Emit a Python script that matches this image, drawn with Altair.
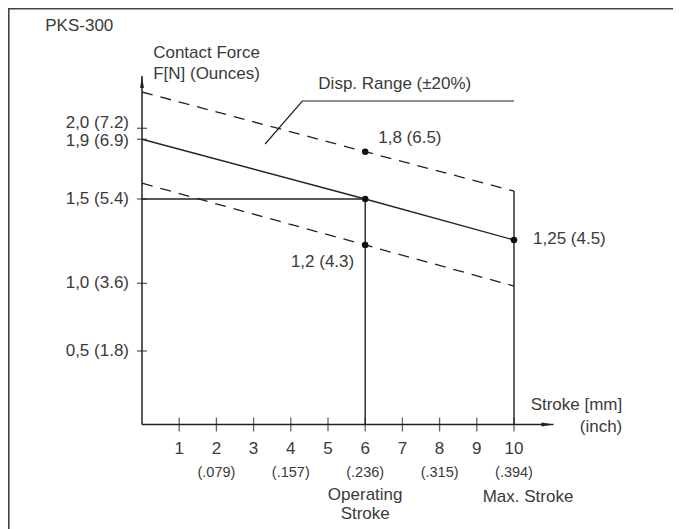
import altair as alt
import pandas as pd

# ---------------- data ----------------
stroke_mm = [0, 6, 10]
force_nominal = [1.9, 1.5, 1.25]
force_upper = [2.33, 1.8, 1.55]
force_lower = [1.6, 1.2, 0.98]

x_ticks = [1, 2, 3, 4, 5, 6, 7, 8, 9, 10]
x_tick_labels = ["1", "2", "3", "4", "5", "6", "7", "8", "9", "10"]
inch_positions = [2, 4, 6, 8, 10]
inch_labels = ["(.079)", "(.157)", "(.236)", "(.315)", "(.394)"]

y_ticks = [0.5, 1.0, 1.5, 1.9, 2.0]
y_low_ticks = [0.5, 1.0, 1.5]
y_low_labels = ["0,5 (1.8)", "1,0 (3.6)", "1,5 (5.4)"]
y_top_labels = ["1,9 (6.9)", "2,0 (7.2)"]

operating_stroke = 6
max_stroke = 10
operating_force = 1.5
max_stroke_top = 1.55

x_axis_end = 11.06
y_axis_end = 2.475

callout_x = [3.31, 4.31, 10]
callout_y = [1.862, 2.248, 2.248]

# schematic (non-uniform) force axis: scale stops
y_stops = [0, 0.5, 1.0, 1.2, 1.25, 1.5, 1.8, 1.9, 2.0]
y_stop_px = [416.5, 343, 275.3, 237, 232, 191, 143.7, 131.3, 120.3]

W, H = 665, 521
INK = "#222222"
TXT = "#3a3a3a"
FONT = "Liberation Sans"
FS = 17

xs = alt.Scale(domain=[0, 10], range=[134, 506], nice=False, zero=False)
ys = alt.Scale(domain=y_stops, range=y_stop_px, nice=False, zero=False)
X = alt.X("x:Q", scale=xs, axis=None)
Y = alt.Y("y:Q", scale=ys, axis=None)


def df(**cols):
    return pd.DataFrame(cols)


# curves
nominal = alt.Chart(df(x=stroke_mm, y=force_nominal)).mark_line(
    color=INK, strokeWidth=1.4).encode(x=X, y=Y)

band = pd.concat([
    df(x=stroke_mm, y=force_upper, s=["upper"] * 3),
    df(x=stroke_mm, y=force_lower, s=["lower"] * 3),
])
dashed = alt.Chart(band).mark_line(
    color=INK, strokeWidth=1.3, strokeDash=[11, 8]).encode(x=X, y=Y, detail="s:N")

# reference lines
hline = alt.Chart(df(x=[0], x2=[operating_stroke], y=[operating_force])).mark_rule(
    color=INK, strokeWidth=1.4).encode(x=X, x2="x2:Q", y=Y)
vlines = alt.Chart(df(x=[operating_stroke, max_stroke], y=[0, 0],
                      y2=[operating_force, max_stroke_top])).mark_rule(
    color=INK, strokeWidth=1.4).encode(x=X, y=Y, y2="y2:Q")

# axes
x_axis = alt.Chart(df(x=[0], x2=[x_axis_end], y=[0])).mark_rule(
    color=INK, strokeWidth=1.5).encode(x=X, x2="x2:Q", y=Y)
y_axis = alt.Chart(df(x=[0], y=[0], y2=[y_axis_end])).mark_rule(
    color=INK, strokeWidth=1.5).encode(x=X, y=Y, y2="y2:Q")
x_arrow = alt.Chart(df(x=[x_axis_end], y=[0])).mark_point(
    shape="M0,0 L-2,0.32 L-2,-0.32 Z", size=144, filled=True, opacity=1,
    color=INK).encode(x=X, y=Y)
y_arrow = alt.Chart(df(x=[0], y=[y_axis_end])).mark_point(
    shape="M0,0 L0.32,2 L-0.32,2 Z", size=144, filled=True, opacity=1,
    color=INK).encode(x=X, y=Y)

x_tick_marks = alt.Chart(df(x=x_ticks, y=[0] * len(x_ticks))).mark_tick(
    orient="vertical", size=14, thickness=1.3, color=INK).encode(x=X, y=Y)
y_tick_marks = alt.Chart(df(x=[0] * len(y_ticks), y=y_ticks)).mark_tick(
    orient="horizontal", size=10, thickness=1.3, color=INK).encode(x=X, y=Y)


def label(x, y, t, align, dx, dy, size=FS):
    return alt.Chart(df(x=[x], y=[y], t=[t])).mark_text(
        align=align, dx=dx, dy=dy, font=FONT, color=TXT, fontSize=size,
        baseline="middle").encode(x=X, y=Y, text="t:N")


y_labels = alt.Chart(df(x=[0] * 3, y=y_low_ticks, t=y_low_labels)).mark_text(
    align="right", dx=-13, dy=0, font=FONT, color=TXT, fontSize=FS,
    baseline="middle").encode(x=X, y=Y, text="t:N")
y_label_19 = label(0, 1.9, y_top_labels[0], "right", -13, 2)
y_label_20 = label(0, 2.0, y_top_labels[1], "right", -13, -5)

x_labels = alt.Chart(df(x=x_ticks, y=[0] * len(x_ticks), t=x_tick_labels)).mark_text(
    align="center", dy=24.5, font=FONT, color=TXT, fontSize=FS,
    baseline="middle").encode(x=X, y=Y, text="t:N")
inch = alt.Chart(df(x=inch_positions, y=[0] * len(inch_positions), t=inch_labels)).mark_text(
    align="center", dy=48.5, font=FONT, color=TXT, fontSize=14.5, baseline="middle"
).encode(x=X, y=Y, text="t:N")

# marked points
dots = alt.Chart(df(x=[6, 6, 6, 10], y=[1.8, 1.5, 1.2, 1.25])).mark_circle(
    size=42, color="#111111", opacity=1).encode(x=X, y=Y)

point_labels = [
    label(6, 1.8, "1,8 (6.5)", "left", 13, -14),
    label(6, 1.2, "1,2 (4.3)", "right", -11, 17),
    label(10, 1.25, "1,25 (4.5)", "left", 19, -1),
]

annotations = [
    label(-2.6, 2.93, "PKS-300", "left", 0, 0),
    label(0.30, 2.685, "Contact Force", "left", 0, 0),
    label(0.30, 2.494, "F[N] (Ounces)", "left", 0, 0),
    label(4.74, 2.248, "Disp. Range (\u00b120%)", "left", 0, -17),
    label(12.91, 0, "Stroke [mm]", "right", 0, -19.5),
    label(12.91, 0, "(inch)", "right", 0, 2.5),
    label(operating_stroke, 0, "Operating", "center", 0, 70),
    label(operating_stroke, 0, "Stroke", "center", 0, 89.5),
    label(max_stroke, 0, "Max. Stroke", "center", 14, 72.5),
]

callout = alt.Chart(df(x=callout_x, y=callout_y, o=[0, 1, 2])).mark_line(
    color=INK, strokeWidth=1.2).encode(x=X, y=Y, order="o:Q")

# frame (top and left edges of the bordered box)
frame_top = alt.Chart(df(a=[0])).mark_rule(color="#444444", strokeWidth=1.6).encode(
    x=alt.value(0), x2=alt.value(W), y=alt.value(0.8))
frame_left = alt.Chart(df(a=[0])).mark_rule(color="#444444", strokeWidth=1.6).encode(
    x=alt.value(0.8), y=alt.value(0), y2=alt.value(H))

chart = alt.layer(
    frame_top, frame_left,
    dashed, nominal, hline, vlines, callout,
    x_axis, y_axis, x_arrow, y_arrow, x_tick_marks, y_tick_marks,
    y_labels, y_label_19, y_label_20, x_labels, inch, dots,
    *point_labels, *annotations,
).properties(
    width=W, height=H, padding=0, background="white",
    autosize=alt.AutoSizeParams(type="none"),
).configure_view(stroke=None)

chart.save("out.html", embed_options={"renderer": "svg", "actions": False})
